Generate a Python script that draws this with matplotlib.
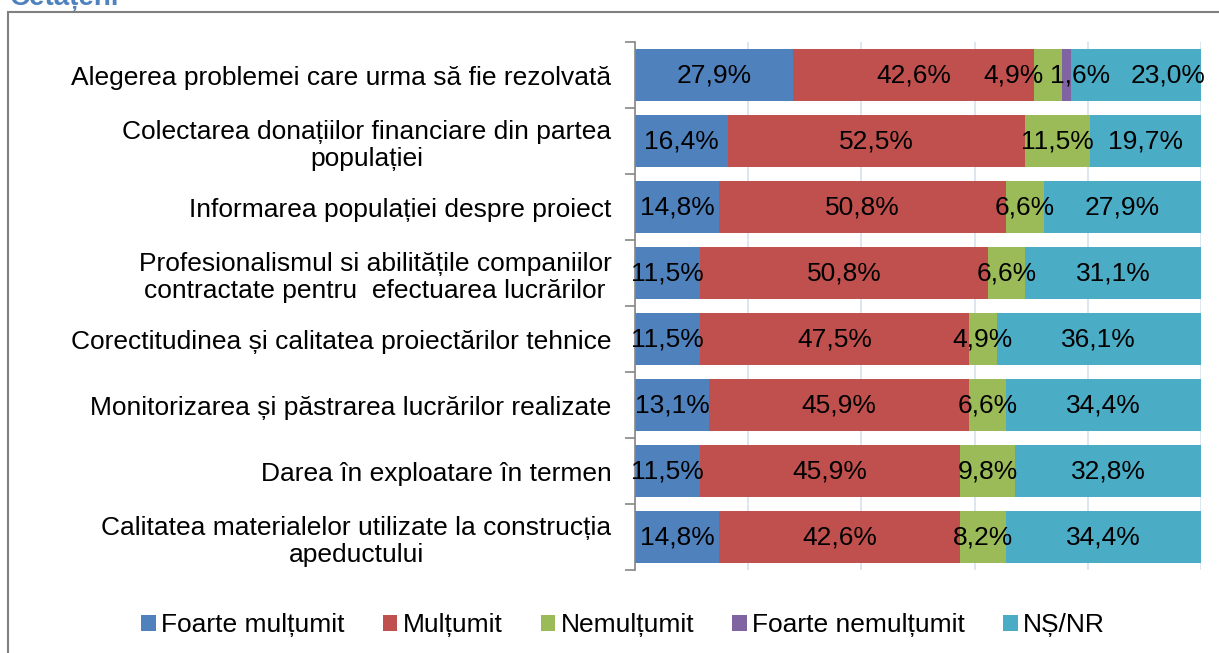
import matplotlib.pyplot as plt
import numpy as np
from matplotlib.patches import Rectangle
from matplotlib.ticker import FixedLocator

plt.rcParams['font.family'] = ['Liberation Sans', 'DejaVu Sans']

# categorii (de sus in jos)
categorii = [
    'Alegerea problemei care urma să fie rezolvată',
    'Colectarea donațiilor financiare din partea\npopulației',
    'Informarea populației despre proiect',
    'Profesionalismul si abilitățile companiilor\ncontractate pentru  efectuarea lucrărilor',
    'Corectitudinea și calitatea proiectărilor tehnice',
    'Monitorizarea și păstrarea lucrărilor realizate',
    'Darea în exploatare în termen',
    'Calitatea materialelor utilizate la construcția\napeductului',
]
serii = ['Foarte mulțumit', 'Mulțumit', 'Nemulțumit', 'Foarte nemulțumit', 'NȘ/NR']
culori = ['#4F81BD', '#C0504D', '#9BBB59', '#8064A2', '#4BACC6']

foarte_multumit = [27.9, 16.4, 14.8, 11.5, 11.5, 13.1, 11.5, 14.8]
multumit = [42.6, 52.5, 50.8, 50.8, 47.5, 45.9, 45.9, 42.6]
nemultumit = [4.9, 11.5, 6.6, 6.6, 4.9, 6.6, 9.8, 8.2]
foarte_nemultumit = [1.6, 0, 0, 0, 0, 0, 0, 0]
ns_nr = [23.0, 19.7, 27.9, 31.1, 36.1, 34.4, 32.8, 34.4]

valori = [foarte_multumit, multumit, nemultumit, foarte_nemultumit, ns_nr]

# etichete mici care s-ar suprapune: (serie, rand) -> deplasare pe x
deplasari = {(2, 0): -6.0, (3, 0): 2.4, (4, 0): 5.7}

fig = plt.figure(figsize=(12.19, 6.53), dpi=100)
ax = fig.add_axes([635/1219, 1 - 570/653, (1201 - 635)/1219, (570 - 42)/653])

y = np.arange(len(categorii))
left = np.zeros(len(categorii))
for k, (nume, val, c) in enumerate(zip(serii, valori, culori)):
    val = np.array(val)
    ax.barh(y, val, left=left, height=0.79, color=c, label=nume, zorder=2)
    for yi, l, v in zip(y, left, val):
        if v > 0:
            dx = deplasari.get((k, yi), 0)
            ax.text(l + v / 2 + dx, yi, f'{v:.1f}%'.replace('.', ','),
                    ha='center', va='center', fontsize=19, color='black',
                    zorder=3, clip_on=False)
    left = left + val

ax.set_xlim(0, 100)
ax.set_ylim(len(categorii) - 0.5, -0.5)
ax.set_xticks([0, 20, 40, 60, 80, 100])
ax.tick_params(axis='x', length=0, labelbottom=False)
ax.xaxis.grid(True, color='#D5E0EE', linewidth=1.2, zorder=0)

ax.set_yticks(y)
ax.set_yticklabels(categorii, fontsize=19, multialignment='center', linespacing=1.17)
ax.tick_params(axis='y', which='major', length=0, pad=17)
ax.yaxis.set_minor_locator(FixedLocator(np.arange(-0.5, len(categorii), 1)))
ax.tick_params(axis='y', which='minor', length=7, width=1.2, color='#868686')

for s in ['top', 'right', 'bottom']:
    ax.spines[s].set_visible(False)
ax.spines['left'].set_color('#868686')
ax.spines['left'].set_linewidth(1.2)

fig.legend(loc='center', bbox_to_anchor=(623/1219, 1 - 625/653), ncol=5,
           frameon=False, fontsize=19, handlelength=0.55, handleheight=0.55,
           handletextpad=0.2, columnspacing=1.45)

# chenarul graficului
fig.patches.append(Rectangle((8/1219, -0.2), 1.2, 1.2 - 12/653, transform=fig.transFigure,
                             fill=False, edgecolor='#808080', linewidth=1.5))
fig.text(10/1219, 1 - 5/653, 'Cetățeni', fontsize=20, fontweight='bold',
         color='#4F81BD', ha='left', va='baseline')

fig.savefig('out.png', dpi=100)
